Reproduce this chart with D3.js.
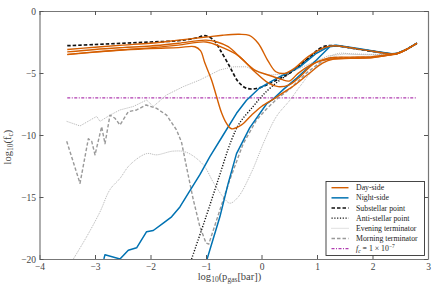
<!DOCTYPE html>
<html>
<head>
<meta charset="utf-8">
<script src="https://cdn.jsdelivr.net/npm/d3@7"></script>
<style>
  body { margin: 0; background: #fff; }
  svg { font-family: "Liberation Serif", "DejaVu Serif", serif; }
</style>
</head>
<body>
<svg id="chart" width="437" height="291"></svg>
<script>
// values, [log10 p, log10 fc]
const xTicks = [-4, -3, -2, -1, 0, 1, 2, 3];
const yTicks = [0, -5, -10, -15, -20];
const fcLevel = -7;
const fcRange = [-3.5, 2.8];

const daySide = [
  [[-3.5,-3.1],[-3,-2.92],[-2.5,-2.75],[-2,-2.6],[-1.5,-2.35],[-1,-2.1],[-0.7,-1.95],[-0.4,-1.88],[-0.22,-1.97],[-0.06,-2.6],[0.12,-4.05],[0.26,-4.9],[0.42,-5.03],[0.6,-4.6],[0.84,-3.68],[1.14,-2.93],[1.32,-2.8],[1.74,-3.07],[2.04,-3.27],[2.35,-3.47],[2.45,-3.42],[2.62,-3.08],[2.8,-2.6]],
  [[-3.5,-3.3],[-3,-3.1],[-2.5,-2.95],[-2,-2.82],[-1.5,-2.6],[-1,-2.35],[-0.8,-2.5],[-0.6,-2.88],[-0.37,-3.8],[-0.12,-4.76],[0.12,-5.16],[0.35,-5.5],[0.5,-5.65],[0.66,-5.03],[0.89,-4.35],[1.2,-3.8],[1.6,-3.72],[2.0,-3.68],[2.3,-3.52],[2.45,-3.42],[2.62,-3.08],[2.8,-2.6]],
  [[-3.5,-3.5],[-3,-3.3],[-2.5,-3.12],[-2,-2.97],[-1.5,-2.75],[-1,-2.5],[-0.7,-2.95],[-0.42,-3.6],[-0.12,-4.9],[0.12,-5.8],[0.3,-6.1],[0.5,-5.95],[0.66,-5.43],[0.96,-4.2],[1.2,-3.9],[1.6,-3.8],[2.0,-3.75],[2.3,-3.56],[2.45,-3.43],[2.62,-3.08],[2.8,-2.6]],
  [[-3.5,-3.52],[-3,-3.32],[-2.5,-3.15],[-2,-3.02],[-1.5,-2.95],[-1.2,-2.88],[-1.1,-3.2],[-1.02,-4.2],[-0.9,-5.56],[-0.81,-6.9],[-0.72,-8.2],[-0.63,-9.06],[-0.54,-9.5],[-0.36,-9.19],[-0.18,-8.4],[0,-7.7],[0.24,-7.04],[0.42,-6.5],[0.6,-5.97],[0.84,-5.1],[1.1,-4.2],[1.3,-3.88],[1.6,-3.82],[2.0,-3.76],[2.3,-3.55],[2.45,-3.43],[2.62,-3.08],[2.8,-2.6]]
];

const nightSide = [
  [[-2.84,-20],[-2.82,-19.65],[-2.55,-20],[-2.4,-19.3],[-2.25,-19.1],[-2.07,-17.8],[-1.95,-17.7],[-1.77,-17.1],[-1.62,-16.6],[-1.47,-15.8],[-1.32,-14.7],[-1.11,-13.2],[-0.93,-11.75],[-0.69,-10.0],[-0.45,-8.25],[-0.27,-7.2],[-0.04,-6.23],[0.33,-5.3],[0.69,-4.5],[0.99,-3.41],[1.23,-2.82],[1.35,-2.76],[1.74,-3.03],[2.04,-3.24],[2.35,-3.45],[2.45,-3.41],[2.62,-3.07],[2.8,-2.6]],
  [[-0.98,-20],[-0.75,-16.6],[-0.6,-13.9],[-0.45,-11.5],[-0.21,-9.4],[0.09,-7.5],[0.21,-7.1],[0.4,-6.3],[0.63,-5.43],[0.99,-3.95],[1.23,-2.88],[1.35,-2.8],[1.74,-3.06],[2.04,-3.26],[2.35,-3.46],[2.45,-3.42],[2.62,-3.08],[2.8,-2.6]]
];

const substellar = [[-3.5,-2.8],[-3,-2.7],[-2.5,-2.6],[-2,-2.5],[-1.5,-2.4],[-1.2,-2.2],[-1.0,-2.0],[-0.85,-2.4],[-0.75,-3.1],[-0.57,-4.5],[-0.42,-5.7],[-0.27,-6.23],[-0.09,-6.25],[0.1,-5.95],[0.21,-5.7],[0.51,-5.0],[0.81,-3.95],[1.1,-2.9],[1.32,-2.8],[1.74,-3.08],[2.04,-3.28],[2.35,-3.47],[2.45,-3.42],[2.62,-3.08],[2.8,-2.6]];

const antistellar = [[-1.26,-20],[-1.0,-16.6],[-0.78,-13.6],[-0.54,-10.4],[-0.39,-9.0],[-0.15,-7.7],[0.0,-6.9],[0.21,-6.0],[0.51,-5.0],[0.81,-3.95],[1.1,-3.0],[1.3,-2.82],[1.74,-3.07],[2.04,-3.27],[2.35,-3.47],[2.45,-3.42],[2.62,-3.08],[2.8,-2.6]];

const eveningUpper = [[-3.51,-8.9],[-3.27,-9.27],[-2.97,-8.5],[-2.91,-8.9],[-2.73,-8.4],[-2.55,-7.98],[-2.31,-7.7],[-2.07,-7.18],[-1.95,-7.7],[-1.71,-6.77],[-1.41,-6.1],[-1.11,-5.56],[-0.75,-4.75],[-0.5,-4.5],[-0.27,-4.5],[-0.03,-5.0],[0.15,-5.16],[0.35,-5.1],[0.6,-4.8],[0.9,-4.2],[1.2,-3.62],[1.5,-3.47],[2.0,-3.55],[2.3,-3.5],[2.45,-3.42],[2.62,-3.08],[2.8,-2.6]];

const eveningLower = [[-3.39,-20],[-3.15,-18.2],[-2.91,-16.2],[-2.73,-14.4],[-2.55,-13.5],[-2.37,-12.4],[-2.07,-11.5],[-1.89,-11.6],[-1.59,-11.3],[-1.35,-11.4],[-1.05,-12.4],[-0.87,-13.8],[-0.69,-15.0],[-0.57,-15.5],[-0.42,-15.0],[-0.18,-13.0],[0.06,-10.4],[0.27,-8.5],[0.51,-7.2],[0.69,-6.1],[0.93,-4.76],[1.23,-3.68],[1.41,-3.41],[1.6,-3.45],[2.0,-3.5],[2.32,-3.48],[2.45,-3.42],[2.62,-3.08],[2.8,-2.6]];

const morning = [[-3.51,-10.5],[-3.27,-13.9],[-3.12,-10.3],[-3.06,-10.5],[-3.0,-11.6],[-2.88,-9.33],[-2.82,-10.7],[-2.73,-8.4],[-2.64,-8.65],[-2.55,-9.19],[-2.4,-8.12],[-2.25,-7.98],[-2.08,-7.58],[-1.89,-7.85],[-1.71,-8.4],[-1.53,-9.6],[-1.44,-10.6],[-1.35,-12.6],[-1.23,-15.2],[-1.11,-17.4],[-1.0,-18.7],[-0.95,-18.8],[-0.75,-16.05],[-0.57,-13.6],[-0.33,-10.7],[-0.09,-8.8],[0.09,-7.9],[0.3,-7.0],[0.51,-6.3],[0.81,-5.0],[1.1,-4.0],[1.3,-3.75],[1.6,-3.76],[2.0,-3.72],[2.3,-3.54],[2.45,-3.43],[2.62,-3.08],[2.8,-2.6]];

const legendLabels = ["Day-side", "Night-side", "Substellar point", "Anti-stellar point", "Evening terminator", "Morning terminator"];

const svg = d3.select("#chart");
const x = d3.scaleLinear().domain([-4, 3]).range([39.5, 428]);
const y = d3.scaleLinear().domain([-20, 0]).range([259, 11]);

const orange = "#d55e00", blue = "#0072b2", grey = "#999";

svg.append("defs").append("clipPath").attr("id", "clip")
  .append("rect").attr("x", 39.5).attr("y", 11).attr("width", 388.5).attr("height", 248);

const plot = svg.append("g").attr("clip-path", "url(#clip)");
const smooth = d3.line().x(d => x(d[0])).y(d => y(d[1])).curve(d3.curveCatmullRom.alpha(0.5));
const sharp = d3.line().x(d => x(d[0])).y(d => y(d[1]));

function draw(data, gen, color, width, dash) {
  plot.append("path").datum(data)
    .attr("d", gen)
    .attr("fill", "none")
    .attr("stroke", color)
    .attr("stroke-width", width)
    .attr("stroke-dasharray", dash || null)
    .attr("stroke-linejoin", "round");
}

// fc threshold
plot.append("line")
  .attr("x1", x(fcRange[0])).attr("x2", x(fcRange[1]))
  .attr("y1", y(fcLevel)).attr("y2", y(fcLevel))
  .attr("stroke", "#b03cb0").attr("stroke-width", 1.2)
  .attr("stroke-dasharray", "3,1.5,1,1.5");

draw(eveningUpper, sharp, "#aaa", 0.9, "1,1");
draw(eveningLower, smooth, "#aaa", 0.9, "1,1");
draw(morning, sharp, grey, 1.4, "3.5,2");
draw(antistellar, smooth, "#111", 1.4, "1.2,1.6");
draw(substellar, smooth, "#111", 1.7, "3.5,2");
nightSide.forEach(s => draw(s, sharp, blue, 1.5));
daySide.forEach(s => draw(s, smooth, orange, 1.4));

// axes with inward ticks
const fmt = d3.format("d");
function styleAxis(g) {
  g.select(".domain").attr("stroke", "#777").attr("stroke-width", 1.2);
  g.selectAll(".tick line").attr("stroke", "#555");
  g.selectAll(".tick text").attr("fill", "#444").attr("font-size", 9.5)
    .attr("font-family", "Liberation Serif, serif");
}
svg.append("g").attr("transform", "translate(0,259)")
  .call(d3.axisBottom(x).tickValues(xTicks).tickFormat(fmt).tickSize(-4).tickPadding(4).tickSizeOuter(0))
  .call(styleAxis);
svg.append("g").attr("transform", "translate(0,11)")
  .call(d3.axisTop(x).tickValues(xTicks).tickSize(-4).tickFormat("").tickSizeOuter(0))
  .call(styleAxis);
svg.append("g").attr("transform", "translate(39.5,0)")
  .call(d3.axisLeft(y).tickValues(yTicks).tickFormat(fmt).tickSize(-4).tickPadding(3.5).tickSizeOuter(0))
  .call(styleAxis);
svg.append("g").attr("transform", "translate(428,0)")
  .call(d3.axisRight(y).tickValues(yTicks).tickSize(-4).tickFormat("").tickSizeOuter(0))
  .call(styleAxis);

// axis labels
const xl = svg.append("text").attr("x", 229.5).attr("y", 280)
  .attr("text-anchor", "middle").attr("font-size", 10.5).attr("fill", "#444");
xl.append("tspan").text("log");
xl.append("tspan").attr("font-size", 7.5).attr("dy", 2.2).text("10");
xl.append("tspan").attr("dy", -2.2).text("(p");
xl.append("tspan").attr("font-size", 7.5).attr("dy", 2.2).text("gas");
xl.append("tspan").attr("dy", -2.2).text("[bar])");

const yl = svg.append("text").attr("transform", "translate(11,147) rotate(-90)")
  .attr("text-anchor", "middle").attr("font-size", 10.5).attr("fill", "#444");
yl.append("tspan").text("log");
yl.append("tspan").attr("font-size", 7.5).attr("dy", 2.2).text("10");
yl.append("tspan").attr("dy", -2.2).text("(f");
yl.append("tspan").attr("font-size", 7.5).attr("dy", 2.2).text("c");
yl.append("tspan").attr("dy", -2.2).text(")");

// legend
const lg = svg.append("g");
lg.append("rect").attr("x", 326).attr("y", 181.5).attr("width", 98.5).attr("height", 74)
  .attr("fill", "#fff").attr("stroke", "#333").attr("stroke-width", 0.9);
const legendStyles = [
  [orange, 1.4, null], [blue, 1.5, null], ["#111", 1.7, "3.5,2"],
  ["#111", 1.4, "1.2,1.6"], ["#bbb", 0.9, "1,1"], [grey, 1.4, "3.5,2"],
  ["#b03cb0", 1.2, "3,1.5,1,1.5"]
];
legendStyles.forEach((s, i) => {
  const yy = 187.7 + i * 10.15;
  lg.append("line").attr("x1", 331.5).attr("x2", 348.5).attr("y1", yy).attr("y2", yy)
    .attr("stroke", s[0]).attr("stroke-width", s[1]).attr("stroke-dasharray", s[2]);
  if (i < legendLabels.length) {
    lg.append("text").attr("x", 356).attr("y", yy + 2.5).attr("font-size", 7.8)
      .attr("fill", "#222").text(legendLabels[i]);
  } else {
    const t = lg.append("text").attr("x", 356).attr("y", yy + 2.5).attr("font-size", 7.8).attr("fill", "#222");
    t.append("tspan").attr("font-style", "italic").text("f");
    t.append("tspan").attr("font-size", 5.5).attr("dy", 1.5).attr("font-style", "italic").text("c");
    t.append("tspan").attr("dy", -1.5).text(" = 1 × 10");
    t.append("tspan").attr("font-size", 5.5).attr("dy", -3).text("−7");
  }
});
</script>
</body>
</html>
